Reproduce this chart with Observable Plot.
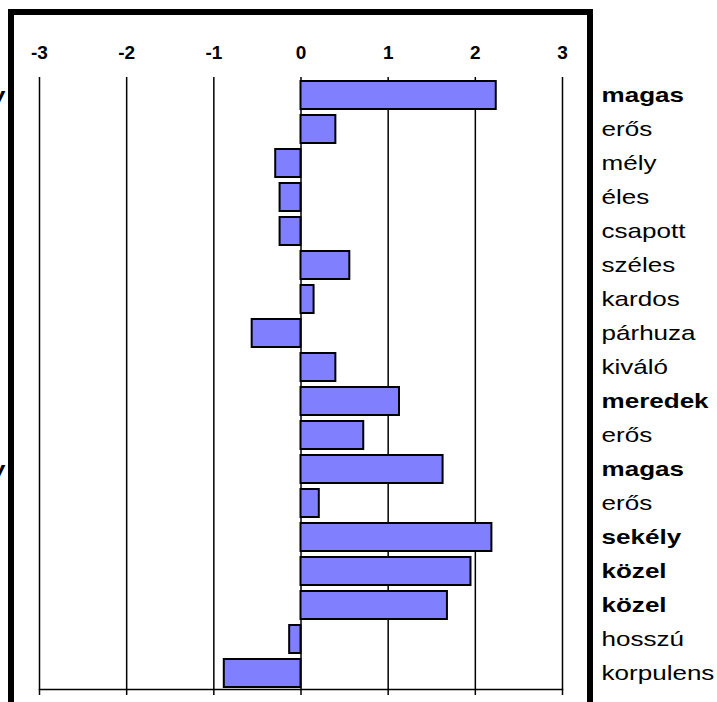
<!DOCTYPE html>
<html><head><meta charset="utf-8">
<script src="https://cdn.jsdelivr.net/npm/d3@7"></script>
<script src="https://cdn.jsdelivr.net/npm/@observablehq/plot@0.6"></script>
<style>
body{margin:0;background:#fff}
#wrap{position:relative;width:717px;height:702px;overflow:hidden;background:#fff}
.b{position:absolute;background:#000}
</style>
</head><body><div id="wrap"></div>
<script>
const labels = ["magas","erős","mély","éles","csapott","széles","kardos","párhuza","kiváló","meredek","erős","magas","erős","sekély","közel","közel","hosszú","korpulens"];
const values = [2.24,0.40,-0.29,-0.24,-0.24,0.56,0.15,-0.56,0.40,1.13,0.72,1.63,0.21,2.19,1.95,1.68,-0.13,-0.88];
const bold = [true,false,false,false,false,false,false,false,false,true,false,true,false,true,true,true,false,false];
const leftLabels = ["y","","","","","","","","","","","y","","","","","",""];
const ticks = [-3,-2,-1,0,1,2,3];

const data = labels.map((l,i)=>({i, label:l, value:values[i], bold:bold[i], left:leftLabels[i]}));
const font = "'Liberation Sans', Arial, Helvetica, sans-serif";

const plot = Plot.plot({
  width: 717, height: 702,
  marginLeft: 39, marginRight: 155, marginTop: 77, marginBottom: 13,
  x: {domain: [-3, 3], axis: null},
  y: {domain: d3.range(18), range: [75, 693.5], padding: 0.19, axis: null},
  style: {fontFamily: font, background: "#fff", color: "#000", overflow: "visible"},
  marks: [
    Plot.ruleX(ticks, {x: d => d, stroke: "#000", strokeWidth: 1.5}),
    Plot.barX(data, {x: "value", y: "i", fill: "#8080FF", stroke: "#000", strokeWidth: 2}),
    Plot.frame({anchor: "bottom", stroke: "#000", strokeWidth: 1.5}),
    Plot.axisX({ticks, anchor: "bottom", tickSize: 6, tickFormat: () => "", label: null, stroke: "#000", strokeWidth: 1.5}),
    Plot.text(ticks, {x: d => d, text: d => String(d), frameAnchor: "top", dy: -32, fontSize: 19, fontWeight: "bold", fill: "#000"}),
    Plot.text(data.filter(d => d.bold), {y: "i", text: "label", frameAnchor: "right", dx: 39, textAnchor: "start", fontSize: 21, fontWeight: "bold", fill: "#000"}),
    Plot.text(data.filter(d => !d.bold), {y: "i", text: "label", frameAnchor: "right", dx: 39, textAnchor: "start", fontSize: 21, fill: "#000"}),
    Plot.text(data.filter(d => d.left), {y: "i", text: "left", frameAnchor: "left", dx: -34, textAnchor: "end", fontSize: 21, fontWeight: "bold", fill: "#000"})
  ]
});

const wrap = document.getElementById("wrap");
wrap.appendChild(plot);

// horizontal stretch of the row lettering (reference text is wide)
plot.querySelectorAll("text").forEach(t => {
  const s = t.textContent;
  if (!s) return;
  const isTick = /^-?\d$/.test(s);
  if (isTick) return;
  const len = t.getComputedTextLength();
  if (len > 0) {
    t.setAttribute("textLength", (len * 1.24).toFixed(1));
    t.setAttribute("lengthAdjust", "spacingAndGlyphs");
  }
});

// outer thick frame
[[8,9,6,693],[8,9,585,6],[587,9,6,693]].forEach(([l,t,w,h]) => {
  const d = document.createElement("div");
  d.className = "b";
  Object.assign(d.style, {left: l+"px", top: t+"px", width: w+"px", height: h+"px"});
  wrap.appendChild(d);
});
</script>
</body></html>
